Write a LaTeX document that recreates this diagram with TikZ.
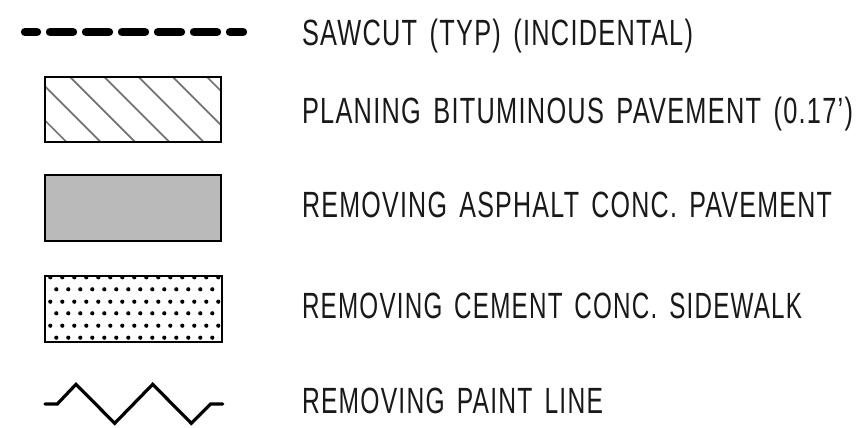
\documentclass[tikz,border=0pt]{standalone}
\usepackage{fontspec}
\setmainfont{Liberation Sans}[FakeStretch=0.68,LetterSpace=3.4,WordSpace=1.5]
\newcommand{\fitw}[2]{\resizebox{#1pt}{\height}{#2}}
\tikzset{
  lab/.style={anchor=base west,inner sep=0pt,outer sep=0pt,font=\fontsize{36.5}{36.5}\selectfont,text=black!90},
  boxout/.style={draw=black,line width=2.4pt},
  hatchline/.style={draw=black!55,line width=1.7pt},
  cutline/.style={line width=8.4pt,line cap=round},
  zig/.style={line width=3.2pt,line join=miter,line cap=round}
}
\begin{document}
\begin{tikzpicture}[x=1pt,y=-1pt]
\useasboundingbox (0,0) rectangle (856,428);
\fill[white] (0,0) rectangle (856,428);
% sawcut
\foreach \a/\b in {25/37,50/73,86/109,122/145,158/181,194/217,230/243}
  \draw[cutline] (\a,32) -- (\b,32);
% planing
\begin{scope}
\clip (45,77) rectangle (221,142);
\foreach \c in {-75.5,-41.3,-6.8,27.4,61.6,95.8,130}
  \draw[hatchline] (\c+60,60) -- (\c+160,160);
\end{scope}
\draw[boxout] (45,77) rectangle (221,142);
% asphalt
\draw[boxout,fill=black!27] (45,175) rectangle (221,241);
% sidewalk
\begin{scope}
\clip (45,276) rectangle (222,342);
\foreach \y in {277.3,301.7,325.7}
  \foreach \k in {0,...,14}
    \fill (50.3+12*\k,\y) circle (2.1);
\foreach \y in {289.3,313.3,337.7}
  \foreach \k in {0,...,13}
    \fill (56.3+12*\k,\y) circle (2.1);
\end{scope}
\draw[boxout] (45,276) rectangle (222,342);
% paint line
\draw[zig] (45,404) -- (57.3,404) -- (76,384.3) -- (114.7,423.3) -- (152.7,384.3) -- (191.3,423.3) -- (210.7,404) -- (222.7,404);
% labels
\node[lab] (t1) at (302,46) {\fitw{391}{SAWCUT (TYP) (INCIDENTAL)}};
\node[lab] (t2) at (302,123) {\fitw{551}{PLANING BITUMINOUS PAVEMENT (0.17')}};
\node[lab] (t3) at (302,217.5) {\fitw{530}{REMOVING ASPHALT CONC. PAVEMENT}};
\node[lab] (t4) at (302,318) {\fitw{500}{REMOVING CEMENT CONC. SIDEWALK}};
\node[lab] (t5) at (302,413) {\fitw{301}{REMOVING PAINT LINE}};
\end{tikzpicture}
\end{document}
